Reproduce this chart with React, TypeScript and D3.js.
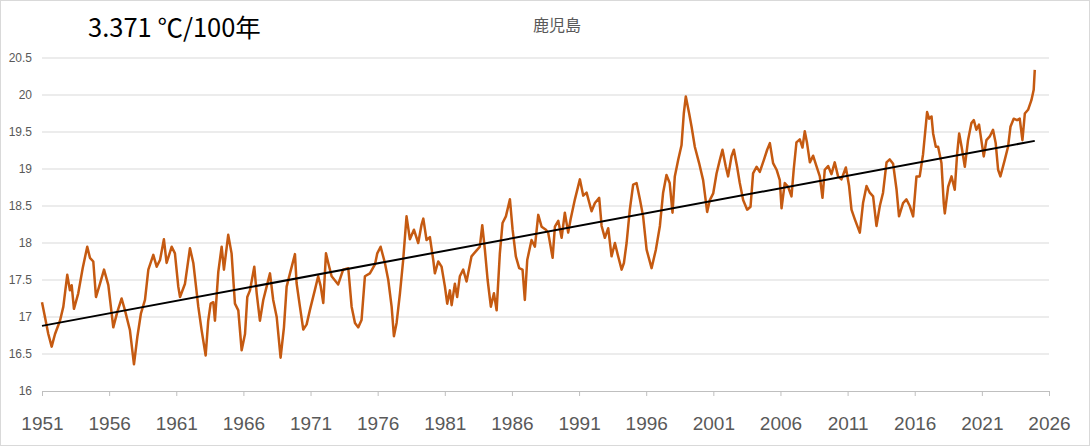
import React, { useEffect, useRef } from 'react';
import * as d3 from 'd3';

// 12-month running mean, Kagoshima
const years = [
  1951.0, 1951.22, 1951.47, 1951.72, 1951.97, 1952.34, 1952.59, 1952.88, 1953.08, 1953.21, 1953.38, 1953.7,
  1954.03, 1954.37, 1954.57, 1954.82, 1955.02, 1955.32, 1955.62, 1955.94, 1956.31, 1956.61, 1956.93, 1957.18,
  1957.55, 1957.85, 1958.1, 1958.37, 1958.67, 1958.92, 1959.29, 1959.54, 1959.79, 1960.08, 1960.28, 1960.66,
  1960.9, 1961.15, 1961.28, 1961.65, 1962.02, 1962.27, 1962.64, 1962.89, 1963.19, 1963.38, 1963.56, 1963.76,
  1963.88, 1964.13, 1964.38, 1964.55, 1964.87, 1965.12, 1965.37, 1965.62, 1965.87, 1966.12, 1966.29, 1966.49,
  1966.81, 1966.99, 1967.23, 1967.48, 1967.73, 1967.98, 1968.22, 1968.48, 1968.77, 1969.02, 1969.22, 1969.47,
  1969.84, 1969.96, 1970.21, 1970.46, 1970.71, 1970.96, 1971.33, 1971.57, 1971.75, 1971.95, 1972.15, 1972.32,
  1972.57, 1973.06, 1973.43, 1973.81, 1974.06, 1974.31, 1974.55, 1974.8, 1975.05, 1975.42, 1975.8, 1975.97,
  1976.22, 1976.54, 1976.79, 1977.04, 1977.21, 1977.41, 1977.66, 1977.9, 1978.15, 1978.4, 1978.7, 1979.02,
  1979.27, 1979.4, 1979.64, 1979.89, 1980.14, 1980.26, 1980.51, 1980.76, 1981.01, 1981.18, 1981.38, 1981.51,
  1981.75, 1981.92, 1982.12, 1982.37, 1982.62, 1982.99, 1983.37, 1983.61, 1983.79, 1983.99, 1984.19, 1984.43,
  1984.66, 1984.86, 1985.1, 1985.3, 1985.55, 1985.85, 1986.05, 1986.29, 1986.54, 1986.79, 1986.96, 1987.14,
  1987.46, 1987.71, 1987.96, 1988.21, 1988.53, 1988.7, 1989.03, 1989.2, 1989.45, 1989.7, 1989.94, 1990.19,
  1990.37, 1990.69, 1991.06, 1991.31, 1991.56, 1991.93, 1992.18, 1992.5, 1992.68, 1992.92, 1993.17, 1993.42,
  1993.67, 1993.91, 1994.17, 1994.34, 1994.54, 1994.78, 1995.03, 1995.28, 1995.53, 1995.77, 1996.03, 1996.4,
  1996.72, 1997.02, 1997.26, 1997.51, 1997.75, 1997.96, 1998.13, 1998.38, 1998.63, 1998.8, 1998.95, 1999.2,
  1999.38, 1999.62, 1999.94, 2000.24, 2000.54, 2000.74, 2000.99, 2001.24, 2001.48, 2001.68, 2001.93, 2002.1,
  2002.35, 2002.53, 2002.77, 2002.97, 2003.22, 2003.52, 2003.77, 2003.96, 2004.22, 2004.46, 2004.76, 2005.01,
  2005.21, 2005.45, 2005.71, 2005.95, 2006.08, 2006.32, 2006.57, 2006.82, 2006.99, 2007.19, 2007.44, 2007.64,
  2007.81, 2007.98, 2008.19, 2008.43, 2008.68, 2008.93, 2009.13, 2009.3, 2009.55, 2009.8, 2010.04, 2010.29,
  2010.54, 2010.87, 2011.11, 2011.29, 2011.54, 2011.91, 2012.15, 2012.41, 2012.65, 2012.9, 2013.15, 2013.4,
  2013.64, 2013.9, 2014.14, 2014.39, 2014.64, 2014.83, 2015.13, 2015.38, 2015.63, 2015.88, 2016.13, 2016.37,
  2016.62, 2016.92, 2017.07, 2017.25, 2017.37, 2017.57, 2017.74, 2017.99, 2018.16, 2018.24, 2018.49, 2018.74,
  2018.98, 2019.16, 2019.31, 2019.49, 2019.73, 2019.97, 2020.22, 2020.4, 2020.59, 2020.79, 2020.96, 2021.14,
  2021.34, 2021.59, 2021.83, 2022.03, 2022.21, 2022.38, 2022.7, 2022.95, 2023.13, 2023.37, 2023.62, 2023.82,
  2024.02, 2024.2, 2024.44, 2024.69, 2024.86, 2024.94,
];

const temps = [
  17.2, 17.0, 16.77, 16.6, 16.77, 16.95, 17.14, 17.57, 17.36, 17.43, 17.11, 17.32,
  17.66, 17.95, 17.8, 17.75, 17.27, 17.45, 17.64, 17.43, 16.86, 17.07, 17.25, 17.09,
  16.82, 16.36, 16.73, 17.05, 17.23, 17.64, 17.84, 17.68, 17.77, 18.05, 17.73, 17.95,
  17.86, 17.41, 17.27, 17.45, 17.93, 17.73, 17.14, 16.82, 16.48, 16.95, 17.18, 17.2,
  16.95, 17.61, 17.95, 17.64, 18.11, 17.86, 17.18, 17.09, 16.55, 16.77, 17.27, 17.36,
  17.68, 17.32, 16.95, 17.23, 17.41, 17.59, 17.23, 17.0, 16.45, 16.86, 17.41, 17.59,
  17.85, 17.46, 17.14, 16.83, 16.9, 17.1, 17.37, 17.55, 17.42, 17.19, 17.86, 17.73,
  17.55, 17.44, 17.64, 17.66, 17.14, 16.92, 16.86, 16.96, 17.55, 17.59, 17.71, 17.86,
  17.95, 17.73, 17.5, 17.14, 16.74, 16.92, 17.32, 17.77, 18.36, 18.05, 18.18, 18.0,
  18.25, 18.33, 18.04, 18.08, 17.77, 17.59, 17.75, 17.68, 17.41, 17.18, 17.36, 17.16,
  17.45, 17.27, 17.55, 17.64, 17.48, 17.82, 17.9, 17.95, 18.24, 17.9, 17.5, 17.14,
  17.32, 17.09, 17.86, 18.27, 18.36, 18.59, 18.18, 17.82, 17.66, 17.64, 17.23, 17.77,
  18.04, 17.95, 18.38, 18.22, 18.18, 18.14, 17.8, 18.22, 18.3, 18.07, 18.41, 18.14,
  18.32, 18.59, 18.86, 18.64, 18.68, 18.43, 18.54, 18.61, 18.23, 18.07, 18.2, 17.82,
  18.0, 17.82, 17.64, 17.73, 18.0, 18.45, 18.79, 18.81, 18.59, 18.36, 17.91, 17.66,
  17.91, 18.23, 18.68, 18.92, 18.81, 18.41, 18.9, 19.12, 19.32, 19.75, 19.98, 19.75,
  19.57, 19.3, 19.08, 18.85, 18.42, 18.58, 18.67, 18.94, 19.12, 19.26, 19.03, 18.9,
  19.17, 19.26, 19.03, 18.81, 18.58, 18.45, 18.49, 18.94, 19.03, 18.96, 19.12, 19.26,
  19.35, 19.08, 18.99, 18.85, 18.47, 18.81, 18.76, 18.63, 19.0, 19.36, 19.4, 19.29,
  19.51, 19.35, 19.09, 19.18, 19.04, 18.9, 18.61, 18.99, 19.04, 18.93, 19.09, 18.9,
  18.86, 19.02, 18.77, 18.45, 18.32, 18.14, 18.54, 18.77, 18.68, 18.63, 18.23, 18.5,
  18.68, 19.09, 19.13, 19.07, 18.73, 18.36, 18.54, 18.59, 18.5, 18.36, 18.9, 18.9,
  19.2, 19.77, 19.68, 19.71, 19.48, 19.3, 19.3, 19.08, 18.54, 18.4, 18.76, 18.9,
  18.72, 19.21, 19.48, 19.3, 19.03, 19.39, 19.62, 19.66, 19.53, 19.6, 19.39, 19.17,
  19.39, 19.44, 19.53, 19.35, 18.99, 18.9, 19.12, 19.3, 19.57, 19.68, 19.66, 19.68,
  19.39, 19.75, 19.8, 19.93, 20.07, 20.34,
];

// linear trend (3.371 ℃/100年), end points
const trendYears = [1951.0, 2024.94];
const trendTemps = [16.88, 19.38];

const yTicks = [16, 16.5, 17, 17.5, 18, 18.5, 19, 19.5, 20, 20.5];
const xTicks = [1951, 1956, 1961, 1966, 1971, 1976, 1981, 1986, 1991, 1996, 2001, 2006, 2011, 2016, 2021, 2026];

const W = 1090;
const H = 446;

export default function App() {
  const ref = useRef<SVGSVGElement>(null);

  useEffect(() => {
    document.body.style.margin = '0';
    const svg = d3.select(ref.current);
    svg.selectAll('*').remove();

    const x = d3.scaleLinear().domain([1951, 2026]).range([42, 1049]);
    const y = d3.scaleLinear().domain([16, 20.5]).range([391, 58]);

    // border
    svg.append('rect')
      .attr('x', 0.5).attr('y', 0.5)
      .attr('width', W - 1).attr('height', H - 1)
      .attr('fill', '#fff').attr('stroke', '#d9d9d9');

    // gridlines
    svg.append('g')
      .selectAll('line')
      .data(yTicks.slice(1))
      .enter()
      .append('line')
      .attr('x1', x(1951)).attr('x2', x(2026))
      .attr('y1', d => y(d)).attr('y2', d => y(d))
      .attr('stroke', '#d9d9d9').attr('stroke-width', 1);

    // y labels
    svg.append('g')
      .selectAll('text')
      .data(yTicks)
      .enter()
      .append('text')
      .attr('x', 32)
      .attr('y', d => y(d) + 4)
      .attr('text-anchor', 'end')
      .style('font-family', 'Liberation Sans, Arial, sans-serif')
      .style('font-size', '12px')
      .attr('fill', '#595959')
      .text(d => String(d));

    // x axis
    const xAxis = d3.axisBottom(x)
      .tickValues(xTicks)
      .tickFormat(d => String(d))
      .tickSize(5)
      .tickPadding(21);
    const gx = svg.append('g')
      .attr('transform', `translate(0,${y(16)})`)
      .call(xAxis);
    gx.select('.domain').attr('stroke', '#bfbfbf');
    gx.selectAll('.tick line').attr('stroke', '#bfbfbf');
    gx.selectAll('.tick text')
      .attr('fill', '#595959')
      .style('font-family', 'Liberation Sans, Arial, sans-serif')
      .style('font-size', '19px');

    // series
    const pts = years.map((yr, i) => [yr, temps[i]] as [number, number]);
    const line = d3.line<[number, number]>().x(d => x(d[0])).y(d => y(d[1]));
    svg.append('path')
      .datum(pts)
      .attr('d', line)
      .attr('fill', 'none')
      .attr('stroke', '#c55a11')
      .attr('stroke-width', 2.5)
      .attr('stroke-linejoin', 'round');

    // trend
    const tpts = trendYears.map((yr, i) => [yr, trendTemps[i]] as [number, number]);
    svg.append('path')
      .datum(tpts)
      .attr('d', line)
      .attr('fill', 'none')
      .attr('stroke', '#000')
      .attr('stroke-width', 2);

    // titles
    svg.append('text')
      .attr('x', 88).attr('y', 37)
      .style('font-family', '"Noto Sans CJK JP", sans-serif')
      .style('font-size', '25.5px')
      .attr('fill', '#000')
      .text('3.371 ℃/100年');

    svg.append('text')
      .attr('x', 557).attr('y', 31)
      .attr('text-anchor', 'middle')
      .style('font-family', '"Noto Sans CJK JP", sans-serif')
      .style('font-size', '16px')
      .attr('fill', '#595959')
      .text('鹿児島');
  }, []);

  return <svg ref={ref} width={W} height={H} style={{ display: 'block' }} />;
}
